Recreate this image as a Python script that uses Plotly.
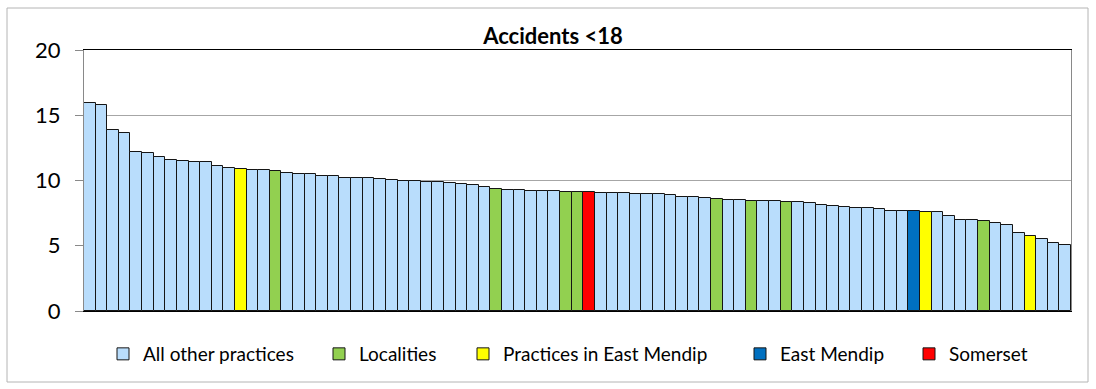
import plotly.graph_objects as go

# Rate of accidents in under-18s per practice, sorted high to low
practice_rate = [
    15.94, 15.76, 13.90, 13.67, 12.21, 12.11, 11.78, 11.57, 11.49, 11.44,
    11.39, 11.14, 10.96, 10.86, 10.80, 10.80, 10.70, 10.60, 10.47, 10.47,
    10.34, 10.32, 10.22, 10.19, 10.17, 10.09, 10.04, 9.99, 9.96, 9.86,
    9.86, 9.78, 9.73, 9.63, 9.48, 9.32, 9.27, 9.25, 9.17, 9.17,
    9.17, 9.14, 9.14, 9.14, 9.07, 9.07, 9.04, 8.99, 8.99, 8.94,
    8.86, 8.74, 8.71, 8.68, 8.61, 8.48, 8.48, 8.43, 8.40, 8.40,
    8.38, 8.33, 8.25, 8.10, 8.05, 7.99, 7.92, 7.87, 7.79, 7.69,
    7.64, 7.64, 7.59, 7.59, 7.25, 6.97, 6.95, 6.87, 6.77, 6.59,
    5.98, 5.72, 5.52, 5.21, 5.03,
]

# Rank positions (1-based) of the highlighted bars; every other bar is a practice
locality_ranks = [17, 36, 42, 43, 55, 58, 61, 78]
east_mendip_practice_ranks = [14, 73, 82]
east_mendip_ranks = [72]
somerset_ranks = [44]

group_names = [
    "All other practices",
    "Localities",
    "Practices in East Mendip",
    "East Mendip",
    "Somerset",
]
group_colors = ["#B9DDFC", "#92D050", "#FFFF00", "#0070C0", "#FF0000"]
# left edge of each legend entry's text, in pixels across the page
legend_text_left = [143, 359, 503, 780, 949]

W, H = 1096, 389
L_M, R_M, T_M, B_M = 84, 25, 50, 78
PW, PH = W - L_M - R_M, H - T_M - B_M
FONT = "Lato"

positions = list(range(1, len(practice_rate) + 1))
group_of = {}
for r in locality_ranks:
    group_of[r] = 1
for r in east_mendip_practice_ranks:
    group_of[r] = 2
for r in east_mendip_ranks:
    group_of[r] = 3
for r in somerset_ranks:
    group_of[r] = 4

fig = go.Figure()
legend_layout = {}
for gi, name in enumerate(group_names):
    xs = [p for p in positions if group_of.get(p, 0) == gi]
    ys = [practice_rate[p - 1] for p in xs]
    legend_id = "legend" if gi == 0 else f"legend{gi + 1}"
    fig.add_trace(
        go.Bar(
            x=xs,
            y=ys,
            name=name,
            width=1,
            marker=dict(color=group_colors[gi], line=dict(color="#151515", width=1)),
            legend=legend_id,
            hoverinfo="y",
        )
    )
    legend_layout[legend_id] = dict(
        x=(legend_text_left[gi] - 40 - L_M) / PW,
        y=(H - B_M - 354) / PH,
        xanchor="left",
        yanchor="middle",
        bgcolor="rgba(0,0,0,0)",
        font=dict(family=FONT, size=19, color="#000000"),
        itemwidth=30,
    )

fig.update_layout(
    width=W,
    height=H,
    margin=dict(l=L_M, r=R_M, t=T_M, b=B_M, autoexpand=False),
    paper_bgcolor="#FFFFFF",
    plot_bgcolor="#FFFFFF",
    barmode="overlay",
    bargap=0,
    showlegend=True,
    title=dict(
        text="<b>Accidents <18</b>",
        font=dict(family=FONT, size=22, color="#000000"),
        xref="container",
        yref="container",
        x=553 / W,
        y=1 - 36 / H,
        xanchor="center",
        yanchor="middle",
    ),
    xaxis=dict(
        range=[0.5, len(practice_rate) + 0.5],
        showticklabels=False,
        ticks="",
        showgrid=False,
        zeroline=False,
        showline=True,
        linecolor="#000000",
        linewidth=1,
        mirror=True,
    ),
    yaxis=dict(
        range=[0, 20],
        tickvals=[0, 5, 10, 15, 20],
        ticks="outside",
        ticklen=8,
        tickcolor="#898989",
        tickfont=dict(family=FONT, size=22, color="#000000"),
        ticklabelstandoff=10,
        showgrid=True,
        gridcolor="#A6A6A6",
        gridwidth=1,
        zeroline=False,
        showline=True,
        linecolor="#898989",
        linewidth=1,
        mirror=True,
    ),
    **legend_layout,
)

# outer chart frame
fig.add_shape(
    type="rect",
    xref="paper",
    yref="paper",
    x0=(7 - L_M) / PW,
    x1=(1088 - L_M) / PW,
    y0=(H - B_M - 382) / PH,
    y1=(H - B_M - 8) / PH,
    line=dict(color="#B4B4B4", width=1),
    fillcolor="rgba(0,0,0,0)",
    layer="below",
)

fig.write_html("out.html")
